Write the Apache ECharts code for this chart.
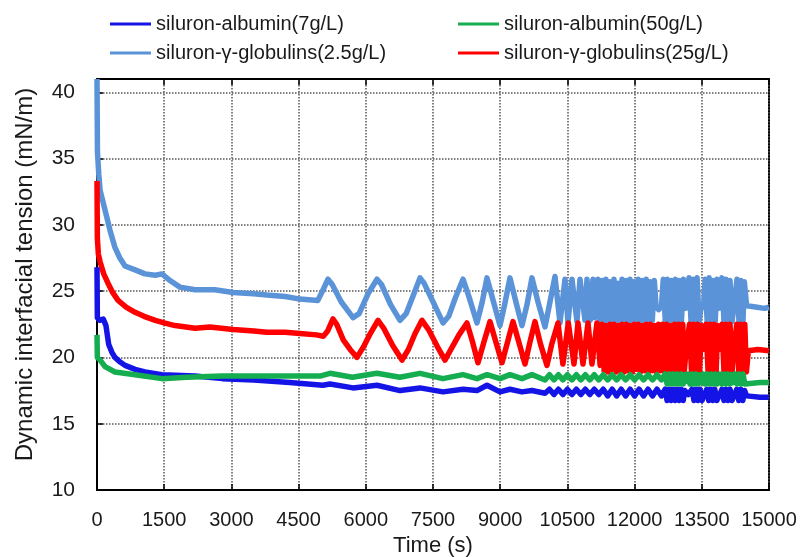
<!DOCTYPE html>
<html>
<head>
<meta charset="utf-8">
<script src="https://cdn.jsdelivr.net/npm/echarts@6/dist/echarts.min.js"></script>
<style>
  html, body { margin: 0; padding: 0; background: #fff; }
  #chart { width: 801px; height: 557px; }
</style>
</head>
<body>
<div id="chart"></div>
<script>
// Series labels and colours
const seriesNames = [
  'siluron-albumin(7g/L)',
  'siluron-albumin(50g/L)',
  'siluron-γ-globulins(2.5g/L)',
  'siluron-γ-globulins(25g/L)'
];
const seriesColors = ['#1414e6', '#14ad4f', '#5b93d9', '#ff0000'];

// Axis ticks
const xTicks = { min: 0, max: 15000, step: 1500 };
const yTicks = { min: 10, max: 41, step: 5 };

// [time (s), interfacial tension (mN/m)]
const albumin7 = [
  [0,26.8],[8,23.0],[60,22.8],[140,22.9],[200,22.4],[260,21.0],[330,20.4],[400,20.0],[500,19.7],[625,19.4],
  [850,19.1],[1070,18.9],[1450,18.7],[2190,18.6],[2800,18.4],[3500,18.3],[4300,18.1],[5040,17.9],[5200,18.0],
  [5714,17.7],[6250,17.9],[6763,17.5],[7210,17.7],[7723,17.4],[8170,17.6],[8482,17.5],[8705,17.9],[8995,17.4],
  [9218,17.6],[9486,17.4],[9709,17.5],[10000,17.3],[10100,17.6],[10200,17.2],[10300,17.6],[10400,17.2],
  [10500,17.6],[10600,17.2],[10700,17.6],[10800,17.2],[10900,17.6],[11000,17.2],[11100,17.6],[11200,17.2],
  [11300,17.6],[11400,17.1],[11500,17.6],[11600,17.1],[11700,17.6],[11800,17.1],[11900,17.6],[12000,17.1],
  [12100,17.6],[12200,17.1],[12300,17.6],[12400,17.1],[12500,17.6],[12600,17.1],
  [12680,17.6],[12725,16.75],[12770,17.6],[12815,16.75],[12860,17.6],[12905,16.75],[12950,17.6],[12995,16.75],
  [13040,17.6],[13085,16.75],[13120,17.5],
  [13200,17.2],
  [13280,17.6],[13325,16.75],[13370,17.6],[13415,16.75],[13460,17.6],[13505,16.75],
  [13560,17.2],
  [13610,17.6],[13655,16.75],[13700,17.6],[13745,16.75],[13790,17.6],[13835,16.75],
  [13900,17.2],
  [13950,17.6],[13995,16.75],[14040,17.6],[14085,16.75],[14130,17.6],[14175,16.75],
  [14230,17.2],
  [14280,17.6],[14325,16.75],[14370,17.6],[14415,16.75],[14455,17.5],
  [14500,17.1],[14800,17.0],[15000,17.0]
];

const albumin50 = [
  [0,21.7],[8,20.0],[70,19.8],[180,19.3],[400,18.9],[850,18.7],[1450,18.4],[2000,18.5],[2800,18.6],[3500,18.6],
  [4300,18.6],[5000,18.6],[5200,18.8],[5700,18.5],[6250,18.8],[6760,18.5],[7210,18.8],[7720,18.4],[8170,18.7],
  [8480,18.4],[8705,18.7],[8995,18.4],[9218,18.7],[9486,18.4],[9709,18.7],[10000,18.3],[10100,18.7],[10200,18.3],
  [10300,18.7],[10400,18.3],[10500,18.7],[10600,18.3],[10700,18.7],[10800,18.3],[10900,18.7],[11000,18.3],
  [11100,18.7],[11200,18.3],[11300,18.7],[11400,18.3],[11500,18.7],[11600,18.3],[11700,18.7],[11800,18.3],
  [11900,18.7],[12000,18.3],[12100,18.7],[12200,18.3],[12300,18.7],[12400,18.3],[12500,18.7],[12600,18.3],
  [12680,18.75],[12725,18.0],[12770,18.75],[12815,18.0],[12860,18.75],[12905,18.0],[12950,18.75],[12995,18.0],
  [13040,18.75],[13085,18.0],[13125,18.7],
  [13160,18.2],
  [13190,18.75],[13235,18.0],[13280,18.75],[13325,18.0],[13370,18.75],[13415,18.0],[13450,18.7],
  [13490,18.1],
  [13530,18.75],[13575,18.0],[13620,18.75],[13665,18.0],[13710,18.75],[13755,18.0],[13800,18.75],[13840,18.0],
  [13870,18.1],
  [13900,18.75],[13945,18.0],[13990,18.75],[14035,18.0],[14080,18.75],[14125,18.0],[14165,18.7],
  [14200,18.1],
  [14240,18.75],[14285,18.0],[14330,18.75],[14375,18.0],[14420,18.75],[14460,18.0],
  [14500,18.1],[14800,18.1],[15000,18.1]
];

const globulins2p5 = [
  [0,41.0],[10,35.5],[40,33.8],[70,32.6],[180,31.1],[290,29.6],[400,28.3],[510,27.5],[625,26.9],[850,26.6],
  [1070,26.3],[1300,26.2],[1450,26.3],[1630,25.8],[1850,25.3],[2190,25.1],[2630,25.1],[3040,24.9],[3500,24.8],
  [3790,24.7],[4200,24.6],[4530,24.4],[4930,24.3],[5060,25.2],[5156,25.9],[5250,25.5],[5450,24.2],[5714,23.0],
  [5850,23.3],[6050,24.8],[6250,25.9],[6350,25.5],[6550,24.0],[6763,22.8],[6900,23.3],[7050,24.6],[7210,26.0],
  [7300,25.6],[7500,24.2],[7723,22.6],[7850,23.1],[8000,24.5],[8170,25.9],[8300,24.6],[8482,22.6],[8600,24.2],
  [8705,26.0],[8850,24.2],[8995,22.4],[9100,24.0],[9218,26.0],[9350,24.2],[9486,22.4],[9600,24.0],[9709,26.0],
  [9850,24.1],[10000,22.3],[10100,24.0],[10223,26.1],[10334,22.6],[10446,25.9],[10513,22.6],[10602,25.9],
  [10714,22.7],[10781,25.9],[10892,22.8],[10937,25.9],[11010,22.8],[11071,25.9],[11115,23.0],
  [11180,25.9],[11225,22.8],[11270,25.8],[11315,22.7],[11360,25.9],[11405,22.8],[11450,25.7],[11495,22.7],
  [11540,25.9],[11585,22.8],[11630,25.6],[11675,22.7],[11720,25.9],[11765,22.8],[11810,25.8],[11855,22.7],
  [11900,25.9],[11945,22.8],[11990,25.7],[12035,22.7],[12080,25.9],[12125,22.8],[12170,25.8],[12215,22.7],
  [12260,25.9],[12305,22.8],[12350,25.7],[12395,22.8],[12440,25.8],
  [12480,23.8],[12540,23.6],[12600,23.9],
  [12640,25.9],[12685,22.7],[12730,25.9],[12775,22.8],[12820,25.8],[12865,22.7],[12910,25.9],[12955,22.8],
  [13000,25.8],[13045,22.7],[13090,25.9],
  [13130,23.7],[13180,23.8],
  [13215,26.0],[13260,22.7],[13305,25.9],[13350,22.8],[13395,26.0],[13440,22.7],
  [13480,23.7],[13540,23.8],
  [13575,25.9],[13620,22.7],[13665,26.0],[13710,22.8],[13755,25.8],[13800,22.7],[13840,25.9],
  [13880,23.7],[13920,23.8],
  [13950,26.0],[13995,22.7],[14040,25.9],[14085,22.8],[14130,25.8],[14175,22.7],
  [14215,23.8],[14255,23.7],
  [14285,25.9],[14330,22.7],[14375,25.8],[14420,22.8],[14450,25.7],
  [14500,23.9],[14700,23.8],[14900,23.7],[15000,23.8]
];

const globulins25 = [
  [0,33.3],[8,29.0],[30,27.8],[70,27.2],[150,26.3],[245,25.6],[350,24.9],[470,24.3],[650,23.8],[850,23.4],
  [1050,23.1],[1300,22.8],[1500,22.6],[1740,22.4],[2190,22.2],[2520,22.3],[3040,22.1],[3500,22.0],[3790,21.9],
  [4200,21.9],[4530,21.8],[4900,21.7],[5050,21.6],[5150,22.0],[5268,22.9],[5350,22.5],[5500,21.3],[5650,20.6],
  [5803,20.0],[5950,20.8],[6100,21.8],[6272,22.8],[6400,22.2],[6600,20.9],[6808,19.8],[6950,20.6],[7100,21.8],
  [7254,22.8],[7400,22.1],[7600,20.8],[7767,19.8],[7900,20.6],[8080,21.7],[8258,22.6],[8380,21.2],[8504,19.6],
  [8640,21.2],[8772,22.7],[8900,21.2],[9040,19.6],[9160,21.1],[9285,22.7],[9420,21.1],[9553,19.5],[9660,21.1],
  [9776,22.7],[9900,21.0],[10044,19.4],[10150,21.0],[10290,22.6],[10400,19.5],[10520,22.6],[10647,19.5],
  [10736,22.6],[10848,19.5],[10960,22.6],[11048,19.5],[11160,22.6],[11230,19.4],
  [11275,22.5],[11320,19.0],[11365,22.4],[11410,18.9],[11455,22.5],[11500,19.1],[11545,22.5],[11590,18.9],
  [11635,22.4],[11680,19.0],[11725,22.5],[11770,18.9],[11815,22.5],[11860,19.0],[11905,22.4],[11950,18.9],
  [11995,22.5],[12040,19.1],[12085,22.5],[12130,18.9],[12175,22.4],[12220,19.0],[12265,22.5],[12310,18.9],
  [12355,22.5],[12400,19.0],[12445,22.4],[12490,18.9],[12535,22.5],[12580,19.0],[12625,22.5],[12670,18.9],
  [12715,22.5],[12760,18.9],[12805,22.4],[12850,19.0],[12895,22.5],[12940,18.9],[12985,22.5],[13030,18.9],
  [13075,22.5],[13110,19.0],
  [13150,20.6],[13190,20.5],
  [13225,22.5],[13270,18.9],[13315,22.5],[13360,18.9],[13405,22.5],[13450,18.9],[13490,22.4],
  [13530,20.6],[13560,20.5],
  [13595,22.5],[13640,18.9],[13685,22.5],[13730,18.9],[13775,22.5],[13820,18.9],[13855,22.4],
  [13890,20.6],[13920,20.5],
  [13950,22.5],[13995,18.9],[14040,22.5],[14085,18.9],[14130,22.5],[14175,18.9],
  [14215,20.6],[14250,20.5],
  [14280,22.5],[14325,18.9],[14370,22.5],[14415,18.9],[14460,22.5],[14495,18.9],
  [14540,20.5],[14750,20.6],[15000,20.5]
];

const seriesData = [albumin7, albumin50, globulins2p5, globulins25];

const FONT = 'Liberation Sans, Arial, sans-serif';
const TEXT = '#1a1a1a';

// Two-row legend: one component per entry so each column lines up
const legendSlots = [
  { left: 110, top: 14 },
  { left: 458, top: 14 },
  { left: 110, top: 43 },
  { left: 458, top: 43 }
];

const chart = echarts.init(document.getElementById('chart'), null, { renderer: 'canvas' });

const option = {
  animation: false,
  backgroundColor: '#ffffff',
  grid: {
    left: 97, right: 32, top: 79, bottom: 67,
    outerBoundsMode: 'none',
    containLabel: false,
    show: true, borderColor: '#000', borderWidth: 2, backgroundColor: 'transparent'
  },
  legend: seriesNames.map((name, i) => ({
    data: [name],
    left: legendSlots[i].left,
    top: legendSlots[i].top,
    padding: 0,
    icon: 'rect',
    itemWidth: 41,
    itemHeight: 3,
    textStyle: { fontFamily: FONT, fontSize: 20, color: TEXT }
  })),
  xAxis: [
    {
      type: 'value',
      min: xTicks.min, max: xTicks.max, interval: xTicks.step,
      axisLine: { show: true, lineStyle: { color: '#000', width: 2 } },
      axisTick: { show: true, inside: true, length: 6, lineStyle: { color: '#000', width: 1.5 } },
      axisLabel: { margin: 20, fontFamily: FONT, fontSize: 20, color: TEXT, formatter: v => String(v) },
      splitLine: { show: true, lineStyle: { type: 'dotted', color: '#555', width: 1.5 } },
      name: 'Time (s)',
      nameLocation: 'middle',
      nameGap: 44,
      nameTextStyle: { fontFamily: FONT, fontSize: 22, color: TEXT }
    },
    {
      type: 'value',
      position: 'top',
      min: xTicks.min, max: xTicks.max, interval: xTicks.step,
      axisLine: { show: true, lineStyle: { color: '#000', width: 2 } },
      axisTick: { show: true, inside: true, length: 6, lineStyle: { color: '#000', width: 1.5 } },
      axisLabel: { show: false },
      splitLine: { show: false }
    }
  ],
  yAxis: {
    type: 'value',
    min: yTicks.min, max: yTicks.max, interval: yTicks.step,
    axisLine: { show: true, lineStyle: { color: '#000', width: 2 } },
    axisTick: { show: true, inside: true, length: 6, lineStyle: { color: '#000', width: 1.5 } },
    axisLabel: { margin: 22, fontFamily: FONT, fontSize: 21, color: TEXT, showMaxLabel: false },
    splitLine: { show: true, lineStyle: { type: 'dotted', color: '#555', width: 1.5 } },
    name: 'Dynamic interfacial tension (mN/m)',
    nameLocation: 'middle',
    nameGap: 60,
    nameTextStyle: { fontFamily: FONT, fontSize: 24, color: TEXT, padding: [0, 0, 0, 20] }
  },
  series: seriesNames.map((name, i) => ({
    name,
    type: 'line',
    xAxisIndex: 0,
    data: seriesData[i],
    showSymbol: false,
    symbol: 'none',
    color: seriesColors[i],
    lineStyle: { color: seriesColors[i], width: 5.5, join: 'round' },
    z: [3, 4, 2, 2][i]
  }))
};

chart.setOption(option);
</script>
</body>
</html>
